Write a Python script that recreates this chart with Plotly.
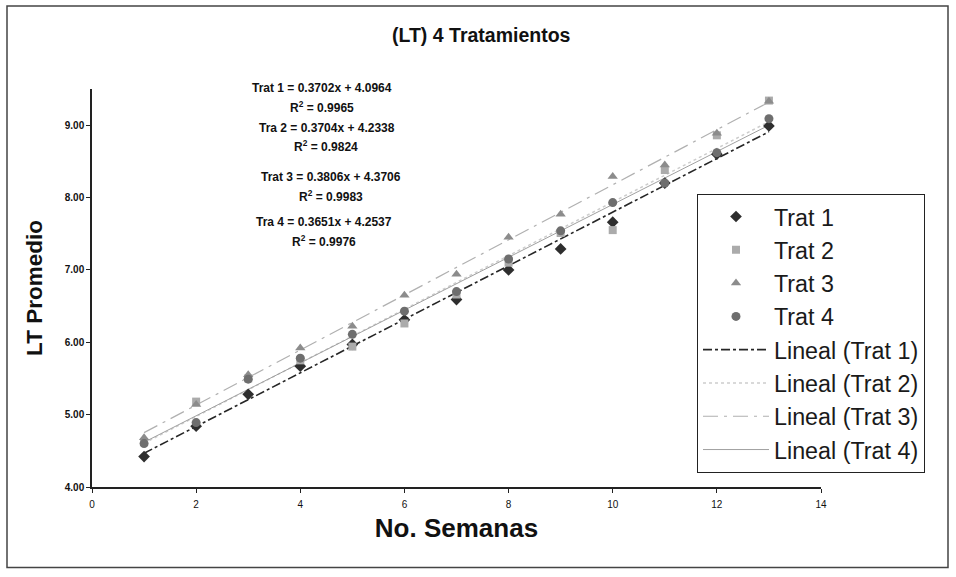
import plotly.graph_objects as go
import numpy as np

# ---------------- data ----------------
weeks = [1, 2, 3, 4, 5, 6, 7, 8, 9, 10, 11, 12, 13]
trat1 = [4.42, 4.84, 5.28, 5.67, 5.97, 6.31, 6.59, 7.00, 7.29, 7.66, 8.20, 8.60, 8.99]
trat2 = [4.62, 5.18, 5.50, 5.75, 5.94, 6.26, 6.66, 7.10, 7.51, 7.55, 8.38, 8.86, 9.34]
trat3 = [4.68, 5.14, 5.55, 5.92, 6.22, 6.65, 6.94, 7.45, 7.77, 8.29, 8.45, 8.89, 9.33]
trat4 = [4.60, 4.89, 5.49, 5.78, 6.11, 6.43, 6.70, 7.15, 7.54, 7.93, 8.20, 8.62, 9.09]

series_names = ["Trat 1", "Trat 2", "Trat 3", "Trat 4"]
trend_names = ["Lineal (Trat 1)", "Lineal (Trat 2)", "Lineal (Trat 3)", "Lineal (Trat 4)"]
slopes = [0.3702, 0.3704, 0.3806, 0.3651]
intercepts = [4.0964, 4.2338, 4.3706, 4.2537]
eq_labels = ["Trat 1 = 0.3702x + 4.0964", "R<sup>2</sup> = 0.9965",
             "Tra 2 = 0.3704x + 4.2338", "R<sup>2</sup> = 0.9824",
             "Trat 3 = 0.3806x + 4.3706", "R<sup>2</sup> = 0.9983",
             "Tra 4 = 0.3651x + 4.2537", "R<sup>2</sup> = 0.9976"]
x_ticks = [0, 2, 4, 6, 8, 10, 12, 14]
y_ticks = [4, 5, 6, 7, 8, 9]
y_tick_text = ["4.00", "5.00", "6.00", "7.00", "8.00", "9.00"]

# ---------------- styles ----------------
FONT = "Arial, Liberation Sans, sans-serif"
marker_styles = [
    dict(symbol="diamond", color="#2e2e2e", size=9),
    dict(symbol="square", color="#ababab", size=8),
    dict(symbol="triangle-up", color="#8c8c8c", size=9),
    dict(symbol="circle", color="#6e6e6e", size=9),
]
line_styles = [
    dict(color="#262626", width=1.6, dash="dashdot"),
    dict(color="#cdcdcd", width=1.5, dash="dot"),
    dict(color="#b0b0b0", width=1.2, dash="longdashdot"),
    dict(color="#a0a0a0", width=1.0, dash="solid"),
]

fig = go.Figure()
all_series = [trat1, trat2, trat3, trat4]
xs = np.array([min(weeks), max(weeks)], dtype=float)
for i in range(4):
    fig.add_trace(go.Scatter(
        x=xs, y=slopes[i] * xs + intercepts[i], mode="lines",
        name=trend_names[i], line=line_styles[i], legendrank=10 + i,
        showlegend=True))
for i in range(4):
    fig.add_trace(go.Scatter(
        x=weeks, y=all_series[i], mode="markers", name=series_names[i],
        marker=dict(symbol=marker_styles[i]["symbol"], color=marker_styles[i]["color"],
                    size=marker_styles[i]["size"], line=dict(width=0)),
        legendrank=i + 1))

# pixel helpers (plot area: x 92..821, y 89..487.5)
L, R, T, B = 92, 821, 89, 487.5
W, H = 956, 577
def px(x):
    return (x - L) / (R - L)
def py(y):
    return (B - y) / (B - T)

eq_pos = [(322, 88), (322, 107), (327, 128), (326, 146),
          (331, 177), (331, 196), (324, 222), (324, 241)]
annotations = []
for txt, (ax_, ay_) in zip(eq_labels, eq_pos):
    annotations.append(dict(text="<b>" + txt + "</b>", x=px(ax_), y=py(ay_),
                            xref="paper", yref="paper", showarrow=False,
                            xanchor="center", yanchor="middle",
                            font=dict(family=FONT, size=12, color="#111")))
annotations.append(dict(text="<b>(LT) 4 Tratamientos</b>", x=px(481), y=py(35),
                        xref="paper", yref="paper", showarrow=False,
                        xanchor="center", yanchor="middle",
                        font=dict(family=FONT, size=19.5, color="#111")))

fig.update_layout(
    width=W, height=H,
    margin=dict(l=L, r=W - R, t=T, b=H - B, pad=0),
    paper_bgcolor="white", plot_bgcolor="white",
    font=dict(family=FONT, color="#111"),
    annotations=annotations,
    showlegend=True,
    legend=dict(x=px(697), y=py(194), xanchor="left", yanchor="top",
                bgcolor="white", bordercolor="#222", borderwidth=1,
                font=dict(family=FONT, size=23.3, color="#1a1a1a"),
                tracegroupgap=0, itemwidth=66),
    shapes=[dict(type="rect", xref="paper", yref="paper",
                 x0=px(7), x1=px(948), y0=py(568), y1=py(6),
                 line=dict(color="#444", width=1.5), layer="below")],
)
fig.update_xaxes(range=[0, 14], tickvals=x_ticks, ticks="outside", ticklen=4,
                 tickcolor="#222", showline=True, linecolor="#222", linewidth=1.5,
                 showgrid=False, zeroline=False, ticklabelstandoff=3,
                 tickfont=dict(family=FONT, size=10, color="#111"),
                 tickprefix="<b>", ticksuffix="</b>",
                 title=dict(text="<b>No. Semanas</b>", standoff=10,
                            font=dict(family=FONT, size=26, color="#111")))
fig.update_yaxes(range=[4, 9.5], tickvals=y_ticks,
                 ticktext=["<b>" + t + "</b>" for t in y_tick_text],
                 ticks="outside", ticklen=4, tickcolor="#222",
                 showline=True, linecolor="#222", linewidth=1.5,
                 showgrid=False, zeroline=False,
                 tickfont=dict(family=FONT, size=10, color="#111"),
                 title=dict(text="<b>LT Promedio</b>", standoff=16,
                            font=dict(family=FONT, size=22.5, color="#111")))

fig.write_html("out.html")
